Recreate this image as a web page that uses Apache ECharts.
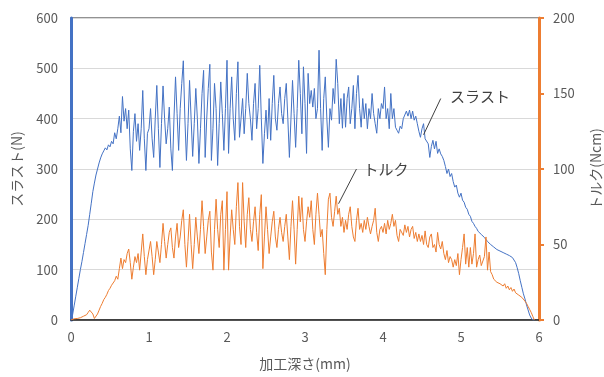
<!DOCTYPE html>
<html>
<head>
<meta charset="utf-8">
<script src="https://cdn.jsdelivr.net/npm/echarts@6/dist/echarts.min.js"></script>
<style>
  html, body { margin: 0; padding: 0; background: #ffffff; }
  #chart { width: 604px; height: 377px; }
</style>
</head>
<body>
<div id="chart"></div>
<script>
// Drilling record: thrust (N) and torque (Ncm) against machining depth (mm)
const depthStep = 0.02; // mm between samples

const thrust = [
  0, 10, 28, 46, 64, 82, 100, 116, 134, 152,
  170, 188, 210, 232, 255, 272, 288, 300, 312, 322,
  330, 336, 342, 338, 348, 344, 355, 350, 372, 360,
  380, 405, 372, 444, 395, 420, 380, 417, 340, 297,
  375, 410, 355, 390, 337, 380, 456, 360, 297, 371,
  380, 420, 360, 323, 400, 466, 380, 303, 390, 465,
  400, 350, 380, 423, 340, 297, 400, 483, 410, 337,
  420, 470, 515, 400, 317, 390, 476, 400, 325, 390,
  460, 400, 311, 380, 450, 496, 323, 400, 460, 508,
  317, 380, 470, 420, 307, 390, 473, 410, 337, 420,
  516, 331, 420, 483, 400, 357, 450, 513, 363, 400,
  440, 370, 420, 490, 430, 400, 357, 430, 470, 380,
  420, 506, 400, 311, 370, 417, 360, 440, 357, 430,
  486, 400, 377, 430, 463, 410, 390, 440, 470, 400,
  323, 400, 476, 410, 343, 420, 516, 450, 370, 503,
  430, 331, 490, 430, 456, 423, 460, 400, 420, 536,
  420, 337, 440, 483, 400, 343, 420, 397, 460, 430,
  518, 470, 390, 440, 381, 450, 383, 440, 463, 390,
  420, 466, 380, 450, 486, 420, 383, 440, 400, 430,
  380, 420, 400, 450, 410, 390, 371, 420, 400, 430,
  420, 463, 400, 420, 380, 450, 400, 420, 383, 377,
  371, 385, 380, 400, 403, 415, 405, 417, 400, 415,
  397, 405, 390, 375, 363, 380, 390, 360, 357, 350,
  323, 345, 357, 340, 355, 331, 340, 330, 325, 317,
  305, 291, 300, 285, 291, 275, 264, 268, 252, 244,
  252, 238, 234, 224, 220, 210, 206, 196, 192, 186,
  182, 176, 176, 170, 170, 164, 164, 156, 156, 150,
  150, 145, 146, 140, 142, 137, 139, 134, 136, 131,
  133, 128, 130, 124, 122, 114, 104, 92, 78, 65,
  52, 42, 30, 20, 10, 4, 0, 0
];

const torque = [
  0, 0.5, 0.8, 1, 1, 1.5, 1.5, 2, 2.5, 3,
  3.5, 5, 6.5, 7, 4, 1, 2, 4, 6.5, 9,
  11, 13.5, 15, 17, 19.5, 21, 23, 22, 26, 29,
  27, 34, 41, 34, 40, 38, 44, 47, 38, 27,
  35, 42, 38, 44, 33, 45, 57, 42, 30, 40,
  40, 52, 42, 30, 40, 52, 45, 38, 50, 64,
  52, 41, 50, 58, 61, 48, 41, 55, 64, 48,
  55, 66, 73, 50, 35, 52, 70, 50, 34, 50,
  68, 55, 44, 60, 79, 62, 44, 55, 66, 72,
  45, 33, 60, 80, 60, 48, 70, 79, 33, 60,
  85, 33, 55, 73, 60, 50, 75, 91, 62, 50,
  91, 65, 48, 70, 81, 60, 52, 65, 75, 58,
  46, 70, 83, 34, 55, 75, 60, 44, 55, 65,
  72, 55, 48, 60, 68, 58, 52, 62, 70, 55,
  40, 62, 79, 60, 37, 60, 82, 65, 81, 60,
  52, 65, 75, 68, 79, 60, 50, 70, 84, 70,
  55, 60, 44, 30, 60, 80, 84, 68, 62, 72,
  82, 70, 74, 62, 68, 58, 66, 60, 70, 75,
  62, 55, 52, 66, 74, 60, 64, 58, 66, 60,
  68, 62, 57, 62, 66, 74, 58, 52, 60, 62,
  58, 64, 57, 66, 60, 64, 70, 62, 66, 56,
  52, 60, 61, 56, 63, 58, 62, 55, 60, 62,
  54, 58, 52, 57, 52, 56, 50, 59, 50, 48,
  55, 57, 48, 50, 45, 58, 50, 47, 52, 44,
  40, 46, 38, 42, 40, 35, 40, 36, 44, 30,
  40, 48, 57, 37, 48, 35, 48, 37, 44, 57,
  35, 40, 43, 36, 35, 42, 55, 33, 45, 32,
  30, 27, 28, 25, 26, 24, 25, 22.5, 24, 21,
  22.5, 20, 21.5, 19, 20.5, 18, 19, 16.5, 17.5, 15,
  14, 12.5, 11, 9, 7, 5, 2.5, 0
];

const depthTicks = [0, 1, 2, 3, 4, 5, 6];
const thrustTicks = [0, 100, 200, 300, 400, 500, 600];
const torqueTicks = [0, 50, 100, 150, 200];

const toPairs = (vals) => vals.map((v, i) => [+(i * depthStep).toFixed(2), v]);

const FONT = '"Noto Sans CJK JP", "Noto Sans", sans-serif';
const BLUE = '#4472C4';
const ORANGE = '#ED7D31';
const GREY = '#595959';

const chart = echarts.init(document.getElementById('chart'), null, { renderer: 'canvas' });

chart.setOption({
  animation: false,
  backgroundColor: '#ffffff',
  textStyle: { fontFamily: FONT },
  grid: {
    left: 71, right: 65, top: 18, bottom: 57,
    containLabel: false, outerBoundsMode: 'none',
    show: true, borderColor: '#262626', borderWidth: 1.2, backgroundColor: 'transparent'
  },
  xAxis: {
    type: 'value',
    min: depthTicks[0], max: depthTicks[depthTicks.length - 1], interval: 1,
    name: '加工深さ(mm)', nameLocation: 'middle', nameGap: 37,
    nameTextStyle: { color: GREY, fontSize: 14, fontFamily: FONT },
    axisLine: { show: true, lineStyle: { color: '#262626', width: 1.5 } },
    axisTick: { show: false },
    splitLine: { show: false },
    axisLabel: { color: GREY, fontSize: 13, margin: 11, fontFamily: FONT }
  },
  yAxis: [
    {
      type: 'value',
      min: thrustTicks[0], max: thrustTicks[thrustTicks.length - 1], interval: 100,
      name: 'スラスト(N)', nameLocation: 'middle', nameRotate: 90, nameGap: 47,
      nameTextStyle: { color: GREY, fontSize: 14, fontFamily: FONT },
      axisLine: { show: true, lineStyle: { color: BLUE, width: 3 } },
      axisTick: { show: false },
      splitLine: { show: true, lineStyle: { color: '#d9d9d9', width: 1 } },
      axisLabel: { color: GREY, fontSize: 13, margin: 13, fontFamily: FONT }
    },
    {
      type: 'value', position: 'right',
      min: torqueTicks[0], max: torqueTicks[torqueTicks.length - 1], interval: 50,
      name: 'トルク(Ncm)', nameLocation: 'middle', nameRotate: 90, nameGap: 50,
      nameTextStyle: { color: GREY, fontSize: 14, fontFamily: FONT },
      axisLine: { show: true, lineStyle: { color: ORANGE, width: 3 } },
      axisTick: { show: true, inside: false, length: 5, lineStyle: { color: ORANGE, width: 2 } },
      splitLine: { show: false },
      axisLabel: { color: GREY, fontSize: 13, margin: 14, fontFamily: FONT }
    }
  ],
  series: [
    {
      name: 'スラスト', type: 'line', yAxisIndex: 0,
      data: toPairs(thrust), showSymbol: false, symbol: 'none',
      lineStyle: { color: BLUE, width: 1 }, z: 3
    },
    {
      name: 'トルク', type: 'line', yAxisIndex: 1,
      data: toPairs(torque), showSymbol: false, symbol: 'none',
      lineStyle: { color: ORANGE, width: 1 }, z: 4
    }
  ]
});

// Callout labels with leader lines, anchored in data space
const callouts = [
  { text: 'スラスト', axis: 0, from: [4.52, 368], to: [4.74, 440], label: [4.86, 444] },
  { text: 'トルク', axis: 1, from: [3.43, 77], to: [3.66, 100], label: [3.75, 100] }
];

const px = (axis, pt) => chart.convertToPixel({ xAxisIndex: 0, yAxisIndex: axis }, pt);

const graphics = [];
callouts.forEach((c) => {
  const a = px(c.axis, c.from), b = px(c.axis, c.to), t = px(c.axis, c.label);
  graphics.push({
    type: 'line', silent: true, z: 10,
    shape: { x1: a[0], y1: a[1], x2: b[0], y2: b[1] },
    style: { stroke: '#404040', lineWidth: 1 }
  });
  graphics.push({
    type: 'text', silent: true, z: 10, x: t[0], y: t[1],
    style: { text: c.text, fill: '#404040', font: '15px ' + FONT, textVerticalAlign: 'middle', verticalAlign: 'middle' }
  });
});
chart.setOption({ graphic: graphics });
</script>
</body>
</html>
